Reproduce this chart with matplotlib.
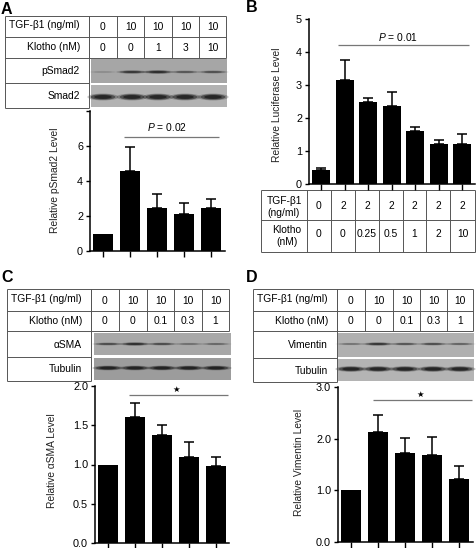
import matplotlib
matplotlib.use('Agg')
import matplotlib.pyplot as plt
from matplotlib.patches import Ellipse, Rectangle

plt.rcParams['font.family'] = ['Liberation Sans', 'DejaVu Sans']
plt.rcParams['mathtext.fontset'] = 'custom'
plt.rcParams['mathtext.it'] = 'Liberation Sans:italic'
plt.rcParams['mathtext.rm'] = 'Liberation Sans'

W, H = 476, 548
FS = 7.4

# Panel A
a_vals = [1.0, 4.6, 2.45, 2.1, 2.45]
a_tops = [None, 5.95, 3.27, 2.73, 3.0]
a_tgf = ['0', '10', '10', '10', '10']
a_klotho = ['0', '0', '1', '3', '10']
a_upper = [0.15, 0.75, 0.85, 0.5, 0.55]
a_lower = [1, 1, 1, 1, 1]

# Panel B
b_vals = [0.43, 3.15, 2.5, 2.35, 1.6, 1.2, 1.22]
b_tops = [0.5, 3.75, 2.62, 2.78, 1.72, 1.32, 1.52]
b_tgf = ['0', '2', '2', '2', '2', '2', '2']
b_klotho = ['0', '0', '0.25', '0.5', '1', '2', '10']

# Panel C
c_vals = [1.0, 1.6, 1.38, 1.1, 0.98]
c_tops = [None, 1.78, 1.5, 1.29, 1.1]
c_tgf = ['0', '10', '10', '10', '10']
c_klotho = ['0', '0', '0.1', '0.3', '1']
c_upper = [0.6, 0.85, 0.6, 0.35, 0.4]
c_lower = [1, 1, 1, 1, 1]

# Panel D
d_vals = [1.0, 2.13, 1.72, 1.69, 1.22]
d_tops = [None, 2.46, 2.02, 2.04, 1.47]
d_tgf = ['0', '10', '10', '10', '10']
d_klotho = ['0', '0', '0.1', '0.3', '1']
d_upper = [0.35, 0.8, 0.55, 0.6, 0.45]
d_lower = [1, 1, 1, 1, 1]

fig = plt.figure(figsize=(W / 100, H / 100), dpi=100)

# Full figure axes in pixel units, for the tables and the blots
ov = fig.add_axes([0, 0, 1, 1])
ov.set_xlim(0, W)
ov.set_ylim(H, 0)
ov.axis('off')

LINE = '#555555'


def hline(y, x0, x1):
    ov.plot([x0, x1], [y, y], color=LINE, lw=0.7, solid_capstyle='butt')


def vline(x, y0, y1):
    ov.plot([x, x], [y0, y1], color=LINE, lw=0.7, solid_capstyle='butt')


# Column centre of each lane
def lane_centres(cols, right):
    edges = list(cols) + [right]
    return [(edges[i] + edges[i + 1]) / 2 for i in range(len(edges) - 1)]


def band(x, y, w, h, strength):
    # Soft band: a few stacked ellipses, darker to the middle
    for k, al in [(1.25, 0.25), (1.0, 0.5), (0.7, 0.7)]:
        ov.add_patch(Ellipse((x, y), w * k, h * k * (0.45 + 0.55 * strength),
                             color='#151515', alpha=al * strength, lw=0))


def blot_table(left, right, ys, sep, cols, tgf, klotho, names, blots, lanes):
    y0, y1, y2, y3, y4 = ys
    hline(y0, left, right)
    hline(y1, left, right)
    hline(y2, left, right)
    hline(y3, left, sep)
    hline(y4, left, sep)
    vline(left, y0, y4)
    vline(sep, y0, y4)
    vline(right, y0, y2)
    for c in cols:
        vline(c, y0, y2)
    xs = lane_centres(cols, right)
    for x, t, k in zip(xs, tgf, klotho):
        ov.text(x, (y0 + y1) / 2 + 1, t, ha='center', va='center', fontsize=FS)
        ov.text(x, (y1 + y2) / 2 + 0.5, k, ha='center', va='center', fontsize=FS)
    tx = sep - 9
    ov.text(tx, (y0 + y1) / 2 - 1, 'TGF-β1 (ng/ml)', ha='right', va='center', fontsize=FS)
    ov.text(tx, (y1 + y2) / 2, 'Klotho (nM)', ha='right', va='center', fontsize=FS)
    ov.text(tx, (y2 + y3) / 2 + 0.5, names[0], ha='right', va='center', fontsize=FS)
    ov.text(tx, (y3 + y4) / 2 + 0.5, names[1], ha='right', va='center', fontsize=FS)
    for b in blots:
        ov.add_patch(Rectangle((b['x0'], b['y0']), b['x1'] - b['x0'], b['y1'] - b['y0'],
                               color=b['bg'], lw=0))
        for x, s in zip(lanes, b['levels']):
            band(x, b['y'], 25, b['h'], s)


def bar_panel(left, right, top, bottom, first, step, width, ymax, ticks, ticklabels,
              vals, tops, ylabel, label_xy, bar_y, bar_x, note, note_xy):
    ax = fig.add_axes([left / W, 1 - bottom / H, (right - left) / W, (bottom - top) / H])
    ax.patch.set_alpha(0)
    xpos = list(range(len(vals)))
    ax.set_xlim((left - first) / step, (right - first) / step)
    ax.set_ylim(0, ymax)
    ax.bar(xpos, vals, width=width / step, color='black')
    for x, v, t in zip(xpos, vals, tops):
        if t is not None:
            ax.errorbar(x, v, yerr=[[0], [t - v]], color='black', lw=1.1,
                        capsize=3.6, capthick=1.1)
    for s in ['top', 'right']:
        ax.spines[s].set_visible(False)
    ax.spines['left'].set_linewidth(1.1)
    ax.spines['bottom'].set_linewidth(1.1)
    ax.set_xticks(xpos)
    ax.set_xticklabels([])
    ax.set_yticks(ticks)
    ax.set_yticklabels(ticklabels, fontsize=FS + 0.4)
    ax.tick_params(length=3, width=1, pad=2)
    ax.tick_params(axis='x', length=4)
    # Significance line, in pixels
    ov.plot(bar_x, [bar_y, bar_y], color='#777777', lw=0.9, solid_capstyle='butt', zorder=5)
    if note == '*':
        ov.text(note_xy[0], note_xy[1], '★', ha='center', va='center', fontsize=6,
                family=['DejaVu Sans'])
    else:
        ov.text(note_xy[0], note_xy[1], note, ha='center', va='center', fontsize=FS)
    ov.text(label_xy[0], label_xy[1], ylabel, rotation=90, ha='center', va='center',
            fontsize=FS, color='#222222')
    return ax


# A
blot_table(5, 226, [16, 37, 58, 83, 108], 89, [89, 117, 144, 172, 199], a_tgf, a_klotho,
           ['pSmad2', 'Smad2'],
           [dict(x0=91, x1=227, y0=59, y1=83, bg='#a6a6a6', y=72, h=3.2, levels=a_upper),
            dict(x0=91, x1=227, y0=85, y1=107, bg='#b2b2b2', y=97, h=5.5, levels=a_lower)],
           [103, 132, 158, 185, 213])
bar_panel(90, 225, 111, 251, 103, 27, 20, 8, [0, 2, 4, 6, 8], ['0', '2', '4', '6', ''],
          a_vals, a_tops, 'Relative pSmad2 Level', (55, 180), 137, [124, 219],
          '$\\mathit{P}$ = 0.02', (167, 127))

# B
hline(190, 261, 475)
hline(220, 261, 475)
hline(252, 261, 475)
vline(261, 190, 252)
vline(475, 190, 252)
for c in [307, 331, 355, 379, 403, 426, 450]:
    vline(c, 190, 252)
b_lanes = lane_centres([307, 331, 355, 379, 403, 426, 450], 475)
for x, t, k in zip(b_lanes, b_tgf, b_klotho):
    ov.text(x, 206, t, ha='center', va='center', fontsize=FS)
    ov.text(x, 234, k, ha='center', va='center', fontsize=FS)
ov.text(284, 207, 'TGF-β1\n(ng/ml)', ha='center', va='center', fontsize=FS, linespacing=1.25)
ov.text(287, 236, 'Klotho\n(nM)', ha='center', va='center', fontsize=FS, linespacing=1.25)
bar_panel(309, 475, 19, 184, 321, 23.5, 18, 5, [0, 1, 2, 3, 4, 5], ['0', '1', '2', '3', '4', '5'],
          b_vals, b_tops, 'Relative Luciferase Level', (277, 105), 45, [338, 469],
          '$\\mathit{P}$ = 0.01', (398, 37))

# C
blot_table(7, 229, [289, 311, 331, 357, 381], 91, [91, 119, 147, 174, 202], c_tgf, c_klotho,
           ['αSMA', 'Tubulin'],
           [dict(x0=94, x1=231, y0=333, y1=355, bg='#a8a8a8', y=344, h=3, levels=c_upper),
            dict(x0=94, x1=231, y0=358, y1=380, bg='#9c9c9c', y=368, h=3.8, levels=c_lower)],
           [108, 135, 162, 189, 216])
bar_panel(95, 229, 386, 543, 108, 27, 20, 2, [0, 0.5, 1, 1.5, 2], ['0.0', '0.5', '1.0', '1.5', '2.0'],
          c_vals, c_tops, 'Relative αSMA Level', (52, 461), 395, [129, 228], '*', (176, 389))

# D
blot_table(253, 473, [289, 311, 331, 358, 382], 337, [337, 365, 393, 420, 447], d_tgf, d_klotho,
           ['Vimentin', 'Tubulin'],
           [dict(x0=338, x1=474, y0=333, y1=357, bg='#b0b0b0', y=344, h=3, levels=d_upper),
            dict(x0=338, x1=474, y0=359, y1=381, bg='#b4b4b4', y=369, h=4.5, levels=d_lower)],
           [351, 378, 405, 433, 460])
bar_panel(338, 473, 387, 542, 351, 27, 20, 3, [0, 1, 2, 3], ['0.0', '1.0', '2.0', '3.0'],
          d_vals, d_tops, 'Relative Vimentin Level', (299, 462), 400, [373, 472], '*', (420, 394))

# Panel letters
for s, x, y in [('A', 1, 9), ('B', 246, 8), ('C', 1, 278), ('D', 246, 278)]:
    ov.text(x, y, s, ha='left', va='center', fontsize=11.5, fontweight='bold')

ov.set_xlim(0, W)
ov.set_ylim(H, 0)
fig.savefig('out.png', dpi=100)
